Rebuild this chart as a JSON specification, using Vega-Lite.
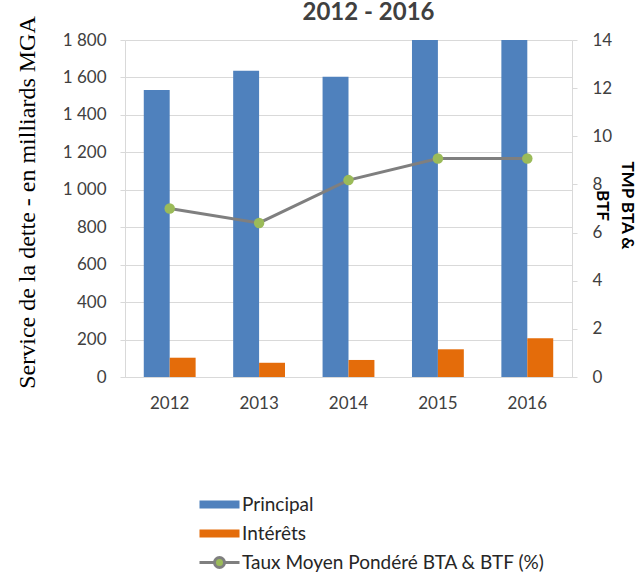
{
  "$schema": "https://vega.github.io/schema/vega-lite/v6.json",
  "width": 447,
  "height": 337,
  "autosize": {"type": "none"},
  "padding": {"left": 125, "top": 40, "right": 68, "bottom": 201},
  "title": {"text": "2012 - 2016", "font": "Lato", "fontSize": 24, "fontWeight": "bold", "color": "#404040", "baseline": "bottom", "frame": "group", "offset": -33, "dx": 20},
  "config": {
    "view": {"stroke": null},
    "axis": {"labelFont": "Lato", "labelFontSize": 17, "labelColor": "#404040", "domainColor": "#d9d9d9", "tickColor": "#d9d9d9", "gridColor": "#d9d9d9"}
  },
  "layer": [
    {
      "data": {"values": [
        {"year": "2012", "series": "Principal", "value": 1533},
        {"year": "2012", "series": "Intérêts", "value": 103},
        {"year": "2013", "series": "Principal", "value": 1636},
        {"year": "2013", "series": "Intérêts", "value": 76},
        {"year": "2014", "series": "Principal", "value": 1604},
        {"year": "2014", "series": "Intérêts", "value": 91},
        {"year": "2015", "series": "Principal", "value": 1900},
        {"year": "2015", "series": "Intérêts", "value": 148},
        {"year": "2016", "series": "Principal", "value": 1900},
        {"year": "2016", "series": "Intérêts", "value": 207}
      ]},
      "mark": {"type": "bar", "clip": true},
      "encoding": {
        "x": {"field": "year", "type": "ordinal", "scale": {"paddingInner": 0.42, "paddingOuter": 0.21},
          "axis": {"title": null, "labelAngle": 0, "ticks": false, "domain": true, "labelPadding": 18}},
        "xOffset": {"field": "series", "type": "nominal", "sort": ["Principal", "Intérêts"], "scale": {"paddingInner": 0, "paddingOuter": 0}},
        "y": {"field": "value", "type": "quantitative", "scale": {"domain": [0, 1800]},
          "axis": {"values": [0, 200, 400, 600, 800, 1000, 1200, 1400, 1600, 1800], "labelExpr": "replace(format(datum.value, ','), ',', ' ')", "grid": true, "tickSize": 5, "labelPadding": 14, "domain": true,
            "title": "Service de la dette - en milliards MGA", "titleFont": "Liberation Serif", "titleFontSize": 24, "titleFontWeight": "normal", "titleColor": "#000000", "titleAngle": -90, "titleBaseline": "alphabetic", "titleAlign": "center", "titleX": -91, "titleY": 162}},
        "color": {"field": "series", "type": "nominal",
          "scale": {"domain": ["Principal", "Intérêts", "Taux Moyen Pondéré BTA & BTF (%)"], "range": ["#4f81bd", "#e46c0a", "#9bbb59"]},
          "legend": {"orient": "none", "legendX": 83, "legendY": 453, "direction": "vertical", "title": null,
            "labelFont": "Lato", "labelFontSize": 19, "labelColor": "#262626", "labelOffset": 11, "labelLimit": 400, "rowPadding": 7, "symbolSize": 400, "symbolStrokeWidth": 3,
            "encode": {"symbols": {"update": {
              "shape": {"signal": "datum.value === 'Taux Moyen Pondéré BTA & BTF (%)' ? 'M-2,0H-0.5M0.5,0H2M0.5,0A0.5,0.5,0,1,1,-0.5,0A0.5,0.5,0,1,1,0.5,0' : 'M-2,-0.4H2V0.4H-2Z'"},
              "stroke": {"signal": "datum.value === 'Taux Moyen Pondéré BTA & BTF (%)' ? '#7f7f7f' : null"},
              "strokeWidth": {"value": 3}
            }}}}}
      }
    },
    {
      "data": {"values": [
        {"year": "2012", "taux": 7.0},
        {"year": "2013", "taux": 6.4},
        {"year": "2014", "taux": 8.18},
        {"year": "2015", "taux": 9.08},
        {"year": "2016", "taux": 9.08}
      ]},
      "encoding": {
        "x": {"field": "year", "type": "ordinal"},
        "y": {"field": "taux", "type": "quantitative", "scale": {"domain": [0, 14]},
          "axis": {"orient": "right", "values": [0, 2, 4, 6, 8, 10, 12, 14], "grid": false, "tickSize": 5, "labelPadding": 15, "domain": true,
            "title": ["TMP BTA &", "BTF"], "titleFont": "Lato", "titleFontSize": 17, "titleFontWeight": "bold", "titleColor": "#000000", "titleAngle": 90, "titleAlign": "center", "titleBaseline": "alphabetic", "titleLineHeight": 25, "titleX": 49, "titleY": 165}}
      },
      "layer": [
        {"mark": {"type": "line", "color": "#7f7f7f", "strokeWidth": 3}, "encoding": {}},
        {"mark": {"type": "point", "filled": true, "size": 110, "opacity": 1}, "encoding": {"color": {"datum": "Taux Moyen Pondéré BTA & BTF (%)"}}}
      ]
    }
  ],
  "resolve": {"scale": {"y": "independent"}}
}
